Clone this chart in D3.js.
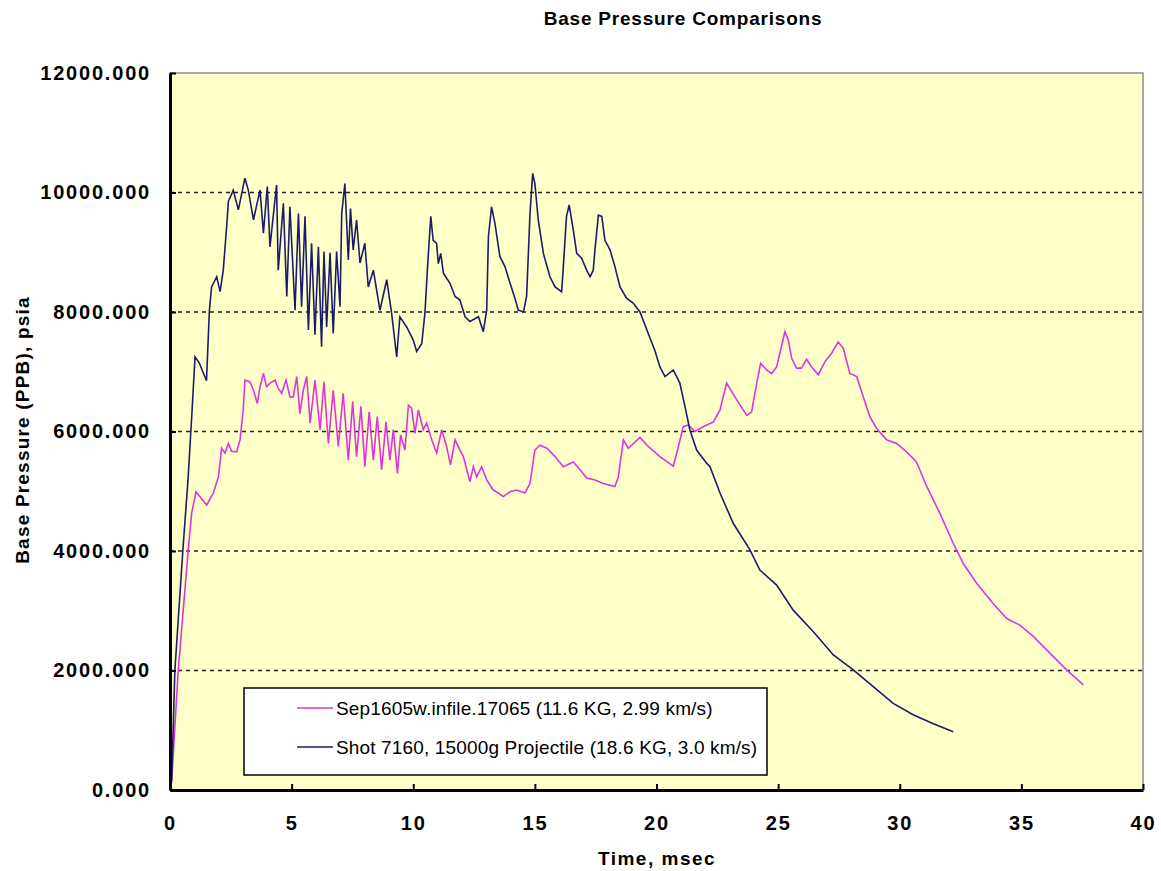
<!DOCTYPE html>
<html>
<head>
  <title>Base Pressure Comparisons</title>
  <style>
    body
    {
      margin: 0;
      background: #ffffff;
    }

    .tick text
    {
      font-family: "Liberation Sans", Arial, sans-serif;
      font-weight: bold;
      font-size: 20px;
      letter-spacing: 1.8px;
      fill: #000000;
    }
  </style>
</head>
<body>
  <div id="chart-container"></div>

  <script src="https://d3js.org/d3.v7.min.js"></script>
  <script>
// Series 1: Sep1605w.infile.17065 (time in msec, pressure in psia)
var sepTime = [0, 0.07, 0.34, 0.75, 0.89, 1.07, 1.25, 1.51, 1.78, 1.99, 2.12, 2.26, 2.4, 2.53, 2.74, 2.88,
  3.01, 3.08, 3.29, 3.43, 3.59, 3.7, 3.84, 3.97, 4.11, 4.32, 4.45, 4.59, 4.77, 4.93, 5.07, 5.21, 5.34,
  5.48, 5.62, 5.76, 5.96, 6.17, 6.33, 6.51, 6.71, 6.92, 7.12, 7.33, 7.51, 7.67, 7.85, 8.01, 8.19, 8.36,
  8.52, 8.7, 8.88, 9.04, 9.18, 9.35, 9.48, 9.66, 9.8, 9.93, 10.07, 10.21, 10.41, 10.55, 10.76, 10.96,
  11.17, 11.37, 11.53, 11.72, 11.92, 12.06, 12.33, 12.47, 12.61, 12.81, 13.02, 13.29, 13.5, 13.7, 13.98,
  14.25, 14.59, 14.8, 15.0, 15.21, 15.49, 15.83, 16.17, 16.58, 16.86, 17.13, 17.47, 17.81, 18.29, 18.43,
  18.64, 18.84, 19.32, 19.66, 20.14, 20.69, 20.9, 21.1, 21.31, 21.58, 21.92, 22.34, 22.61, 22.88, 23.3,
  23.71, 23.91, 24.12, 24.28, 24.53, 24.73, 24.94, 25.07, 25.28, 25.42, 25.56, 25.76, 25.96, 26.17,
  26.38, 26.65, 26.93, 27.2, 27.47, 27.68, 27.95, 28.23, 28.5, 28.77, 29.05, 29.46, 29.87, 30.28, 30.69,
  31.11, 31.65, 32.2, 32.61, 33.16, 33.84, 34.4, 34.94, 35.49, 36.17, 36.86, 37.55];
var sepPressure = [0, 170, 2010, 4020, 4630, 4990, 4900, 4770, 4970, 5240, 5720, 5640, 5800, 5670, 5660, 5860,
  6360, 6860, 6830, 6690, 6470, 6750, 6970, 6750, 6810, 6860, 6720, 6640, 6860, 6580, 6580, 6920, 6300,
  6690, 6920, 6140, 6860, 6030, 6830, 5800, 6690, 5750, 6640, 5520, 6500, 5580, 6420, 5410, 6330, 5520,
  6250, 5360, 6160, 5520, 6030, 5300, 5940, 5690, 6440, 6390, 5970, 6360, 6030, 6140, 5860, 5640,
  6030, 5750, 5440, 5860, 5690, 5580, 5160, 5410, 5240, 5410, 5190, 5020, 4970, 4910, 4990,
  5020, 4970, 5130, 5690, 5770, 5720, 5580, 5410, 5490, 5360, 5220, 5190, 5130, 5080, 5240,
  5860, 5720, 5900, 5750, 5580, 5420, 5750, 6080, 6110, 6000, 6080, 6160, 6360, 6810, 6530,
  6270, 6330, 6810, 7140, 7030, 6970, 7080, 7310, 7670, 7530, 7220, 7060, 7060, 7210,
  7080, 6950, 7170, 7310, 7500, 7390, 6970, 6920, 6580, 6250, 6050, 5860, 5800, 5660, 5490,
  5080, 4630, 4130, 3790, 3460, 3120, 2870, 2760, 2570, 2290, 2010, 1760];

// Series 2: Shot 7160, 15000g Projectile
var shotTime = [0, 0.07, 0.2, 0.53, 0.74, 0.9, 1.03, 1.2, 1.5, 1.62, 1.71, 1.92, 2.06, 2.19, 2.33, 2.4,
  2.6, 2.81, 3.08, 3.22, 3.43, 3.7, 3.84, 4.0, 4.11, 4.38, 4.45, 4.66, 4.8, 4.93, 5.14, 5.28, 5.41, 5.55,
  5.69, 5.82, 5.96, 6.1, 6.23, 6.33, 6.44, 6.58, 6.71, 6.85, 6.99, 7.06, 7.19, 7.33, 7.42, 7.53, 7.67,
  7.81, 8.01, 8.15, 8.36, 8.63, 8.91, 9.11, 9.32, 9.45, 9.73, 10.0, 10.14, 10.35, 10.48, 10.58, 10.72,
  10.82, 10.96, 11.03, 11.13, 11.24, 11.51, 11.72, 11.92, 12.13, 12.33, 12.68, 12.88, 13.02, 13.09,
  13.22, 13.36, 13.56, 13.77, 13.98, 14.18, 14.32, 14.53, 14.66, 14.8, 14.91, 15.0, 15.14, 15.35, 15.62,
  15.83, 16.1, 16.17, 16.3, 16.41, 16.58, 16.72, 16.92, 17.13, 17.27, 17.4, 17.47, 17.61, 17.75, 17.88,
  18.09, 18.29, 18.5, 18.77, 19.04, 19.32, 19.66, 19.93, 20.14, 20.35, 20.69, 20.96, 21.17, 21.37,
  21.65, 22.06, 22.2, 22.61, 23.16, 23.84, 24.25, 24.94, 25.62, 26.45, 27.27, 28.09, 28.91, 29.73,
  30.55, 31.38, 32.2];
var shotPressure = [0, 170, 2000, 4020, 5190, 6300, 7250, 7150, 6850, 8030, 8420, 8590, 8340, 8700, 9430, 9850,
  10040, 9710, 10240, 10040, 9540, 10040, 9320, 10100, 9090, 10125, 8700, 9820, 8260, 9760, 8030, 9650, 8090, 9600,
  7700, 9150, 7620, 9090, 7420, 9010, 7750, 8990, 7640, 9010, 8090, 9650, 10150, 8870, 9730, 9040, 9540,
  8820, 9150, 8420, 8700, 8030, 8540, 7980, 7250, 7920, 7750, 7530, 7340, 7470, 7980, 8700, 9600,
  9200, 9150, 8810, 8980, 8650, 8480, 8260, 8200, 7920, 7840, 7920, 7670, 8030, 9260,
  9760, 9480, 8930, 8760, 8480, 8230, 8030, 8000, 8260, 9650, 10320, 10150, 9540, 8980, 8590,
  8420, 8340, 8760, 9600, 9790, 9370, 8980, 8900, 8700, 8590, 8700, 9040, 9620, 9600, 9200,
  9040, 8760, 8420, 8230, 8150, 8000, 7640, 7360, 7080, 6920, 7030, 6810, 6420, 6030,
  5690, 5470, 5410, 4970, 4460, 4020, 3680, 3430, 3010, 2650, 2260, 2010, 1730, 1450,
  1260, 1110, 975];

var xTicks = [0, 5, 10, 15, 20, 25, 30, 35, 40];
var yTicks = [0, 2000, 4000, 6000, 8000, 10000, 12000];
var gridValues = [2000, 4000, 6000, 8000, 10000];
var seriesNames = ["Sep1605w.infile.17065 (11.6 KG, 2.99 km/s)",
  "Shot 7160, 15000g Projectile (18.6 KG, 3.0 km/s)"];
var seriesColors = ["#e033e0", "#1c1c6e"];

// Size of the picture and the plot area
var width = 1161, height = 871;
var margin = {left: 170, top: 73, right: 18, bottom: 81};
var plotW = width - margin.left - margin.right;
var plotH = height - margin.top - margin.bottom;

var svg = d3.select("#chart-container")
  .append("svg")
  .attr("width", width)
  .attr("height", height);

var g = svg.append("g")
  .attr("transform", "translate(" + margin.left + "," + margin.top + ")");

// Scales
var xScale = d3.scaleLinear()
  .domain([0, 40])
  .range([0, plotW]);

var yScale = d3.scaleLinear()
  .domain([0, 12000])
  .range([plotH, 0]);

// Plot background with thin gray frame on top and right
g.append("rect")
  .attr("width", plotW)
  .attr("height", plotH)
  .attr("fill", "#ffffc8")
  .attr("stroke", "#8c8c8c")
  .attr("stroke-width", 1.5);

// Dashed grid lines
g.selectAll(".grid")
  .data(gridValues)
  .enter()
  .append("line")
  .attr("class", "grid")
  .attr("x1", 0)
  .attr("x2", plotW)
  .attr("y1", function(d) { return yScale(d); })
  .attr("y2", function(d) { return yScale(d); })
  .attr("stroke", "#222222")
  .attr("stroke-width", 1.3)
  .attr("stroke-dasharray", "4,4");

// Lines for both series
var line = d3.line()
  .x(function(d) { return xScale(d[0]); })
  .y(function(d) { return yScale(d[1]); });

var shotData = d3.zip(shotTime, shotPressure);
var sepData = d3.zip(sepTime, sepPressure);

g.append("path")
  .datum(sepData)
  .attr("d", line)
  .attr("fill", "none")
  .attr("stroke", seriesColors[0])
  .attr("stroke-width", 1.6);

g.append("path")
  .datum(shotData)
  .attr("d", line)
  .attr("fill", "none")
  .attr("stroke", seriesColors[1])
  .attr("stroke-width", 1.6);

// Axes, ticks point into the plot
var xAxis = d3.axisBottom(xScale)
  .tickValues(xTicks)
  .tickSizeInner(-6)
  .tickSizeOuter(0)
  .tickPadding(26);

var yAxis = d3.axisLeft(yScale)
  .tickValues(yTicks)
  .tickFormat(d3.format(".3f"))
  .tickSizeInner(-6)
  .tickSizeOuter(0)
  .tickPadding(19);

var xg = g.append("g")
  .attr("transform", "translate(0," + plotH + ")")
  .call(xAxis);

var yg = g.append("g")
  .call(yAxis);

xg.select(".domain").attr("stroke", "#000").attr("stroke-width", 3);
yg.select(".domain").attr("stroke", "#000").attr("stroke-width", 3);
xg.selectAll(".tick line").attr("stroke", "#000").attr("stroke-width", 2);
yg.selectAll(".tick line").attr("stroke", "#000").attr("stroke-width", 2);
xg.selectAll(".tick text").attr("dy", "0.71em");

// Legend
var legend = g.append("g")
  .attr("transform", "translate(" + (244 - margin.left) + "," + (688 - margin.top) + ")");

legend.append("rect")
  .attr("width", 523)
  .attr("height", 87)
  .attr("fill", "#ffffff")
  .attr("stroke", "#000000")
  .attr("stroke-width", 1.5);

seriesNames.forEach(function(name, i) {
  var ly = 20 + i * 39;
  legend.append("line")
    .attr("x1", 53)
    .attr("x2", 89)
    .attr("y1", ly)
    .attr("y2", ly)
    .attr("stroke", seriesColors[i])
    .attr("stroke-width", 1.6);
  legend.append("text")
    .attr("x", 92)
    .attr("y", ly)
    .attr("dy", "0.35em")
    .style("font-family", "'Liberation Sans', Arial, sans-serif")
    .style("font-size", "19px")
    .style("letter-spacing", "0.15px")
    .text(name);
});

// Titles
svg.append("text")
  .attr("x", 683)
  .attr("y", 25)
  .attr("text-anchor", "middle")
  .style("font-family", "'Liberation Sans', Arial, sans-serif")
  .style("font-weight", "bold")
  .style("font-size", "19px")
  .style("letter-spacing", "0.8px")
  .text("Base Pressure Comparisons");

svg.append("text")
  .attr("x", 657)
  .attr("y", 865)
  .attr("text-anchor", "middle")
  .style("font-family", "'Liberation Sans', Arial, sans-serif")
  .style("font-weight", "bold")
  .style("font-size", "19px")
  .style("letter-spacing", "1.5px")
  .text("Time, msec");

svg.append("text")
  .attr("x", -430)
  .attr("y", 29)
  .attr("text-anchor", "middle")
  .attr("transform", "rotate(-90)")
  .style("font-family", "'Liberation Sans', Arial, sans-serif")
  .style("font-weight", "bold")
  .style("font-size", "19px")
  .style("letter-spacing", "1.2px")
  .text("Base Pressure (PPB), psia");
  </script>
</body>
</html>
